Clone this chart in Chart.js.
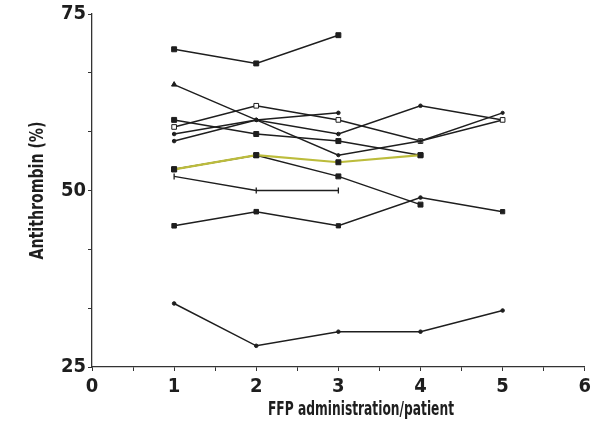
<!DOCTYPE html>
<html lang="en">
<head>
  <meta charset="UTF-8">
  <title>Antithrombin after FFP administration</title>
  <script src="https://cdn.jsdelivr.net/npm/chart.js"></script>
  <style>
    body {
      margin: 0;
      background-color: white;
    }
    #wrap {
      width: 595px;
      height: 433px;
    }
  </style>
</head>
<body>
  <div id="wrap">
    <canvas id="atChart" width="595" height="433"></canvas>
  </div>

  <script>
    // Data: antithrombin (%) per FFP administration
    const administrations = [1, 2, 3, 4, 5];
    const patientA = [70, 68, 72, null, null];
    const patientB = [65, 60, 55, 57, 61];
    const patientC = [60, 58, 57, 55, null];
    const patientD = [59, 62, 60, 57, 60];
    const patientE = [58, 60, 61, null, null];
    const patientF = [57, 60, 58, 62, 60];
    const patientG = [53, 55, 54, 55, null]; // highlighted (yellow)
    const patientH = [53, 55, 52, 48, null];
    const patientI = [52, 50, 50, null, null];
    const patientJ = [45, 47, 45, 49, 47];
    const patientK = [34, 28, 30, 30, 33];

    const yLabelValues = [25, 50, 75];
    const xLabelValues = [0, 1, 2, 3, 4, 5, 6];
    const xTitle = 'FFP administration/patient';
    const yTitle = 'Antithrombin (%)';

    const fontFamily = "'Liberation Sans Narrow', 'DejaVu Sans Condensed', 'Roboto', sans-serif";
    const ink = '#1e1e1e';

    function points(values) {
      return values
        .map((v, i) => (v === null ? null : { x: administrations[i], y: v }))
        .filter(p => p !== null);
    }

    // style helper: every patient is a thin dark line with small markers
    function serie(label, values, style, radius, extra) {
      return Object.assign({
        label: label,
        data: points(values),
        borderColor: ink,
        borderWidth: 1.5,
        backgroundColor: ink,
        pointBackgroundColor: ink,
        pointBorderColor: ink,
        pointBorderWidth: 1,
        pointStyle: style,
        pointRadius: radius,
        tension: 0
      }, extra || {});
    }

    const datasets = [
      serie('G', patientG, 'rect', 3.5, { borderColor: '#bcbc3c', borderWidth: 2.2 }),
      serie('A', patientA, 'rect', 3.5),
      serie('B', patientB, ['triangle', 'circle', 'circle', 'circle', 'circle'], [3, 1.6, 1.6, 1.6, 1.6]),
      serie('C', patientC, 'rect', 3.5),
      serie('D', patientD, 'rect', 3.3, { pointBackgroundColor: 'white' }),
      serie('E', patientE, 'circle', 1.8),
      serie('F', patientF, 'circle', 1.8),
      serie('H', patientH, 'rect', 3.5),
      serie('I', patientI, 'line', 3, { pointRotation: 90, pointBorderWidth: 1.3 }),
      serie('J', patientJ, ['rect', 'rect', 'rect', 'circle', 'rect'], [3.2, 3.2, 3, 1.8, 3]),
      serie('K', patientK, 'circle', 1.8)
    ];

    // axis titles in a narrow bold face (squeezed a bit, like the print)
    const axisTitles = {
      id: 'axisTitles',
      afterDraw(chart) {
        const ctx = chart.ctx;
        const area = chart.chartArea;
        ctx.save();
        ctx.font = 'bold 19px ' + fontFamily;
        ctx.fillStyle = ink;
        ctx.textAlign = 'center';
        ctx.textBaseline = 'middle';

        let w = ctx.measureText(xTitle).width;
        ctx.save();
        ctx.translate(area.left + 269, area.bottom + 43);
        ctx.scale(Math.min(1, 186 / w), 1);
        ctx.fillText(xTitle, 0, 0);
        ctx.restore();

        w = ctx.measureText(yTitle).width;
        ctx.save();
        ctx.translate(area.left - 54, (area.top + area.bottom) / 2);
        ctx.rotate(-Math.PI / 2);
        ctx.scale(Math.min(1, 138 / w), 1);
        ctx.fillText(yTitle, 0, 0);
        ctx.restore();

        ctx.restore();
      }
    };

    new Chart(document.getElementById('atChart'), {
      type: 'line',
      data: { datasets: datasets },
      plugins: [axisTitles],
      options: {
        responsive: false,
        animation: false,
        layout: { padding: { top: 13, right: 8, bottom: 0, left: 0 } },
        plugins: {
          legend: { display: false },
          tooltip: { enabled: false }
        },
        scales: {
          x: {
            type: 'linear',
            min: 0,
            max: 6,
            afterFit: scale => { scale.height = 66; },
            border: { color: '#333', width: 1.3 },
            grid: { drawOnChartArea: false, drawTicks: true, tickLength: 4, color: '#333' },
            ticks: {
              stepSize: 0.5,
              autoSkip: false,
              maxRotation: 0,
              padding: 4,
              color: ink,
              font: { family: fontFamily, size: 20, weight: 'bold' },
              callback: v => (xLabelValues.includes(v) ? String(v) : '')
            }
          },
          y: {
            type: 'linear',
            min: 25,
            max: 75,
            afterFit: scale => { scale.width = 92; },
            border: { color: '#333', width: 1.3 },
            grid: { drawOnChartArea: false, drawTicks: true, tickLength: 4, color: '#333' },
            ticks: {
              stepSize: 25 / 3,
              autoSkip: false,
              padding: 2,
              color: ink,
              font: { family: fontFamily, size: 20, weight: 'bold' },
              callback: v => {
                const r = Math.round(v);
                return Math.abs(v - r) < 0.01 && yLabelValues.includes(r) ? String(r) : '';
              }
            }
          }
        }
      }
    });
  </script>
</body>
</html>
